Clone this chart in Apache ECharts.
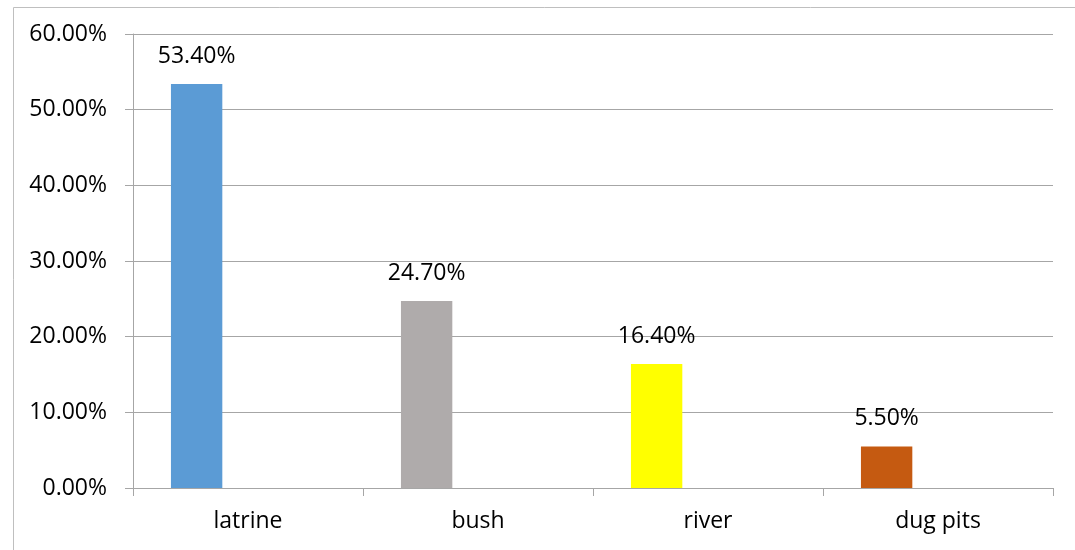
<!DOCTYPE html>
<html>
<head>
<meta charset="utf-8">
<script src="https://cdn.jsdelivr.net/npm/echarts@6/dist/echarts.min.js"></script>
<style>
html,body{margin:0;padding:0;background:#fff;}
#chart{width:1075px;height:550px;}
</style>
</head>
<body>
<div id="chart"></div>
<script>
const categories = ['latrine', 'bush', 'river', 'dug pits'];
const values = [53.4, 24.7, 16.4, 5.5];
const barColors = ['#5B9BD5', '#AFABAB', '#FFFF00', '#C55A11'];
const yTicks = { min: 0, max: 60, interval: 10 };

const FONT = '"Open Sans", sans-serif';
const chart = echarts.init(document.getElementById('chart'));
const empty = categories.map(() => null);

chart.setOption({
  animation: false,
  backgroundColor: '#ffffff',
  graphic: [{
    type: 'rect',
    left: 11, top: 5,
    shape: { x: 0, y: 0, width: 1200, height: 700 },
    style: { fill: 'none', stroke: '#bfbfbf', lineWidth: 1 },
    silent: true
  }],
  grid: { left: 133, right: 22, top: 34, bottom: 62, containLabel: false },
  xAxis: {
    type: 'category',
    data: categories,
    axisLine: { lineStyle: { color: '#a6a6a6', width: 1 } },
    axisTick: { show: true, length: 8, alignWithLabel: false, lineStyle: { color: '#a6a6a6' } },
    axisLabel: { color: '#000', fontFamily: FONT, fontSize: 23, margin: 22 },
    splitLine: { show: false }
  },
  yAxis: {
    type: 'value',
    min: yTicks.min, max: yTicks.max, interval: yTicks.interval,
    axisLine: { show: true, lineStyle: { color: '#a6a6a6', width: 1 } },
    axisTick: { show: true, length: 8, lineStyle: { color: '#a6a6a6' } },
    axisLabel: { color: '#000', fontFamily: FONT, fontSize: 23, margin: 26,
      formatter: v => v.toFixed(2) + '%' },
    splitLine: { show: true, lineStyle: { color: '#a6a6a6', width: 1 } }
  },
  series: [
    {
      type: 'bar',
      data: values.map((v, i) => ({ value: v, itemStyle: { color: barColors[i] } })),
      barGap: '0%',
      barCategoryGap: '33%',
      label: {
        show: true, position: 'top', distance: 16,
        color: '#000', fontFamily: FONT, fontSize: 23,
        formatter: p => p.value.toFixed(2) + '%'
      },
      z: 3
    },
    { type: 'bar', data: empty, barGap: '0%', barCategoryGap: '33%' },
    { type: 'bar', data: empty, barGap: '0%', barCategoryGap: '33%' }
  ]
});
</script>
</body>
</html>
